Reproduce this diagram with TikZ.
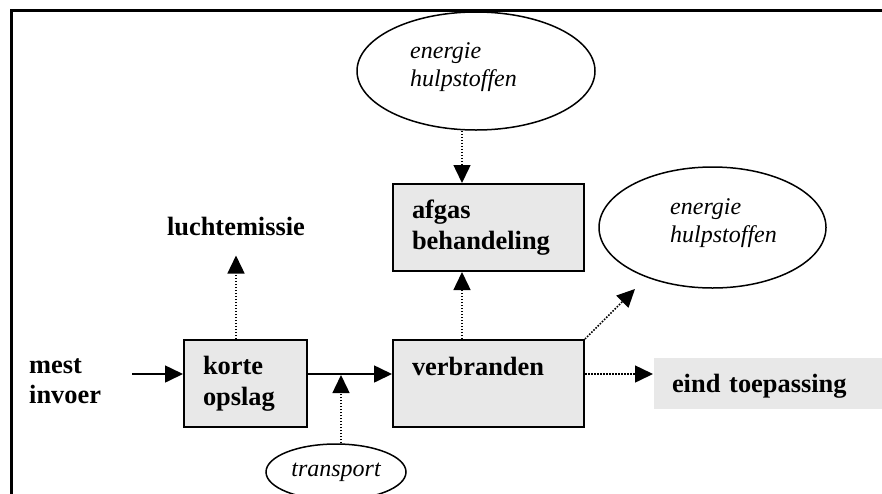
\documentclass[tikz,border=0pt]{standalone}
\usepackage{fontspec}
\setmainfont{Liberation Serif}
\usetikzlibrary{arrows.meta,shapes.geometric}
\definecolor{boxgrey}{RGB}{232,232,232}
\tikzset{
    flow/.style={line width=1.6pt, -{Triangle[length=18pt,width=17pt]}},
    dotted flow/.style={flow, line width=1.5pt, dash pattern=on 1.5pt off 1.5pt},
    grey box/.style={rectangle, draw, line width=2pt, fill=boxgrey, align=left,
            inner xsep=19pt, inner ysep=0pt, minimum height=87pt,
            font=\fontsize{26.4}{31}\selectfont\bfseries},
    bold text/.style={inner sep=0pt, align=left, font=\fontsize{26.4}{30}\selectfont\bfseries},
    ital text/.style={inner sep=0pt, align=left, font=\fontsize{24}{28}\selectfont\itshape},
    oval/.style={ellipse, draw, line width=1.5pt, inner sep=0pt},
}
\begin{document}
\begin{tikzpicture}[x=1pt, y=-1pt]
        \useasboundingbox (0,0) rectangle (882,493);
        \clip (0,0) rectangle (882,493);
        %frame
        \draw[line width=3pt] (11,500) -- (11,10) -- (890,10);
        %process boxes
        \node[grey box, text width=85pt] (korte) at (245.5,383.5) {korte\\opslag};
        \node[grey box, text width=153pt, text depth=35pt] (verbr) at (488.5,383.5) {verbranden};
        \node[grey box, text width=153pt] (afgas) at (488.5,227.5) {afgas\\behandeling};
        \node[grey box, draw=none, anchor=west, text width=211pt, inner xsep=18pt,
            minimum height=51pt, text height=18pt, text depth=0pt] (eind) at (653,383.5) {eind toepassing};
        %plain texts
        \node[bold text, anchor=west] (mest) at (29,381) {mest\\invoer};
        \node[bold text, anchor=base] (lucht) at (236,235) {luchtemissie};
        %ovals
        \node[oval, minimum width=238pt, minimum height=118pt] (topoval) at (476,71) {};
        \node[ital text, anchor=west] (toptext) at (410,67) {energie\\hulpstoffen};
        \node[oval, minimum width=227pt, minimum height=121pt] (rightoval) at (712.5,227.5) {};
        \node[ital text, anchor=west] (righttext) at (670,223) {energie\\hulpstoffen};
        \node[oval, ital text, draw, line width=1.5pt, minimum width=140pt, minimum height=56pt] (transport) at (336,472) {transport};
        %helper coordinates
        \coordinate (mest in) at (132,374);
        \coordinate (up axis) at (462,0);
        \coordinate (tr axis) at (341,0);
        \coordinate (diag tip) at (635,289);
        %solid flow
        \draw[flow] (mest in) -- (korte.west |- mest in);
        \draw[flow] (korte.east |- mest in) -- (verbr.west |- mest in);
        %dotted flows
        \draw[dotted flow, shorten >=1pt] (transport.north -| tr axis) -- (tr axis |- mest in);
        \draw[dotted flow, shorten >=20pt] (korte.north -| lucht) -- (lucht.south);
        \draw[dotted flow] (verbr.north -| up axis) -- (afgas.south -| up axis);
        \draw[dotted flow] (topoval.south -| up axis) -- (afgas.north -| up axis);
        \draw[dotted flow] (verbr.north east) -- (diag tip);
        \draw[dotted flow] (verbr.east |- mest in) -- (eind.west |- mest in);
\end{tikzpicture}
\end{document}
